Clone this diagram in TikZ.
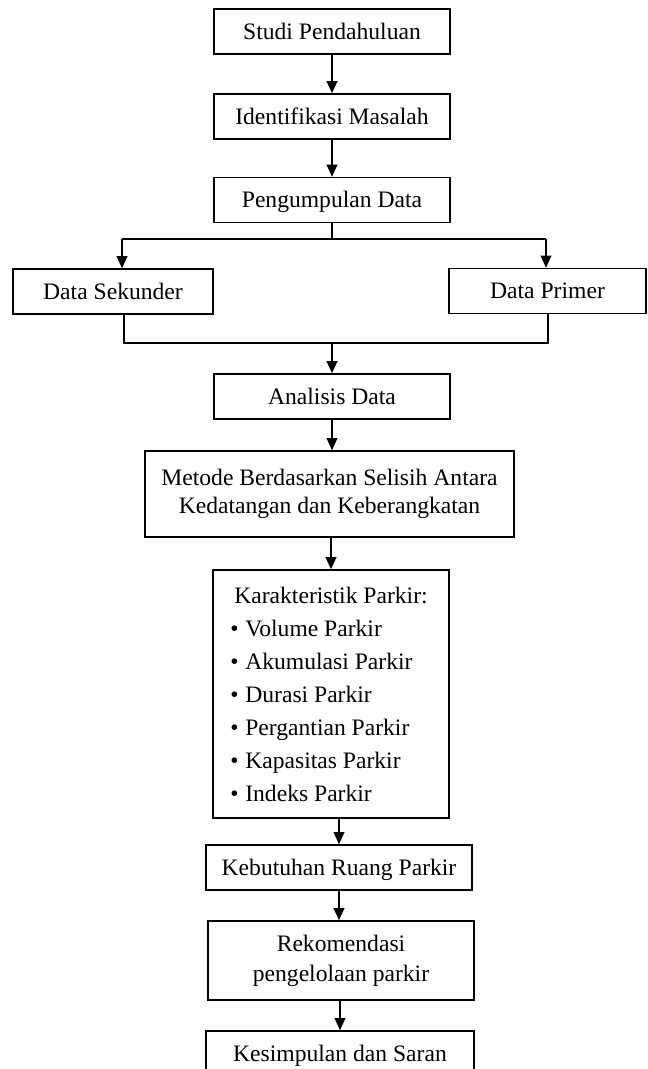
\documentclass[tikz,border=0pt]{standalone}
\usepackage{fontspec}
\setmainfont{Liberation Serif}
\usetikzlibrary{arrows.meta}
\newcommand{\parkitem}{\hspace*{-3pt}\makebox[11.25pt][l]{\textbullet}}
\begin{document}
\begin{tikzpicture}[x=0.75pt,y=-0.75pt,
  box/.style={draw,line width=1.2pt,inner sep=0pt,font=\fontsize{17.7pt}{21pt}\selectfont},
  onebox/.style={box,text height=11.7pt,text depth=0pt},
  conn/.style={line width=1.1pt},
  arr/.style={conn,-{Triangle[length=9pt,width=8pt]}}]
\useasboundingbox (0,0) rectangle (647,1069);
\node[onebox,minimum width=177pt,minimum height=33.75pt] (studi) at (332,31.5) {Studi Pendahuluan};
\node[onebox,minimum width=177pt,minimum height=33.75pt] (ident) at (332,116.5) {Identifikasi Masalah};
\node[onebox,minimum width=177pt,minimum height=33.75pt] (peng) at (332,200) {Pengumpulan Data};
\node[onebox,minimum width=150pt,minimum height=33.75pt] (sek) at (113,291.5) {Data Sekunder};
\node[onebox,minimum width=147.75pt,minimum height=33.75pt] (prim) at (547.5,291) {Data Primer};
\node[onebox,minimum width=177pt,minimum height=33.75pt] (ana) at (332,396.5) {Analisis Data};
\node[box,align=center,minimum width=276.75pt,minimum height=64.5pt] (metode) at (329.5,494) {Metode Berdasarkan Selisih Antara\\Kedatangan dan Keberangkatan};
\node[box,font=\fontsize{17.7pt}{24.75pt}\selectfont,align=left,minimum width=177pt,minimum height=186pt] (karak) at (331,694) {Karakteristik Parkir:\\
\parkitem Volume Parkir\\
\parkitem Akumulasi Parkir\\
\parkitem Durasi Parkir\\
\parkitem Pergantian Parkir\\
\parkitem Kapasitas Parkir\\
\parkitem Indeks Parkir};
\node[onebox,minimum width=199.5pt,minimum height=33.75pt] (kebut) at (339,867.5) {Kebutuhan Ruang Parkir};
\node[box,font=\fontsize{17.7pt}{22.5pt}\selectfont,align=center,minimum width=199.5pt,minimum height=59.25pt] (rekom) at (341,960.5) {Rekomendasi\\pengelolaan parkir};
\node[onebox,minimum width=201pt,minimum height=33.75pt] (kesim) at (340,1053.5) {Kesimpulan dan Saran};
\coordinate (splitl) at (122,239);
\coordinate (splitr) at (546,239);
\coordinate (joinl) at (124,343);
\coordinate (joinr) at (548,343);
\draw[arr] (studi) -- (ident);
\draw[arr] (ident) -- (peng);
\draw[conn] (peng.south) -- (peng.south |- splitl);
\draw[conn] (splitl) -- (splitr);
\draw[arr] (splitl) -- (splitl |- sek.north);
\draw[arr] (splitr) -- (splitr |- prim.north);
\draw[conn] (joinl |- sek.south) -- (joinl) -- (joinr) -- (joinr |- prim.south);
\draw[arr] (ana |- joinl) -- (ana.north);
\draw[arr] (ana.south) -- (ana.south |- metode.north);
\draw[arr] (karak.north |- metode.south) -- (karak.north);
\draw[arr] (kebut.north |- karak.south) -- (kebut.north);
\draw[arr] (kebut.south) -- (kebut.south |- rekom.north);
\draw[arr] (kesim.north |- rekom.south) -- (kesim.north);
\end{tikzpicture}
\end{document}
